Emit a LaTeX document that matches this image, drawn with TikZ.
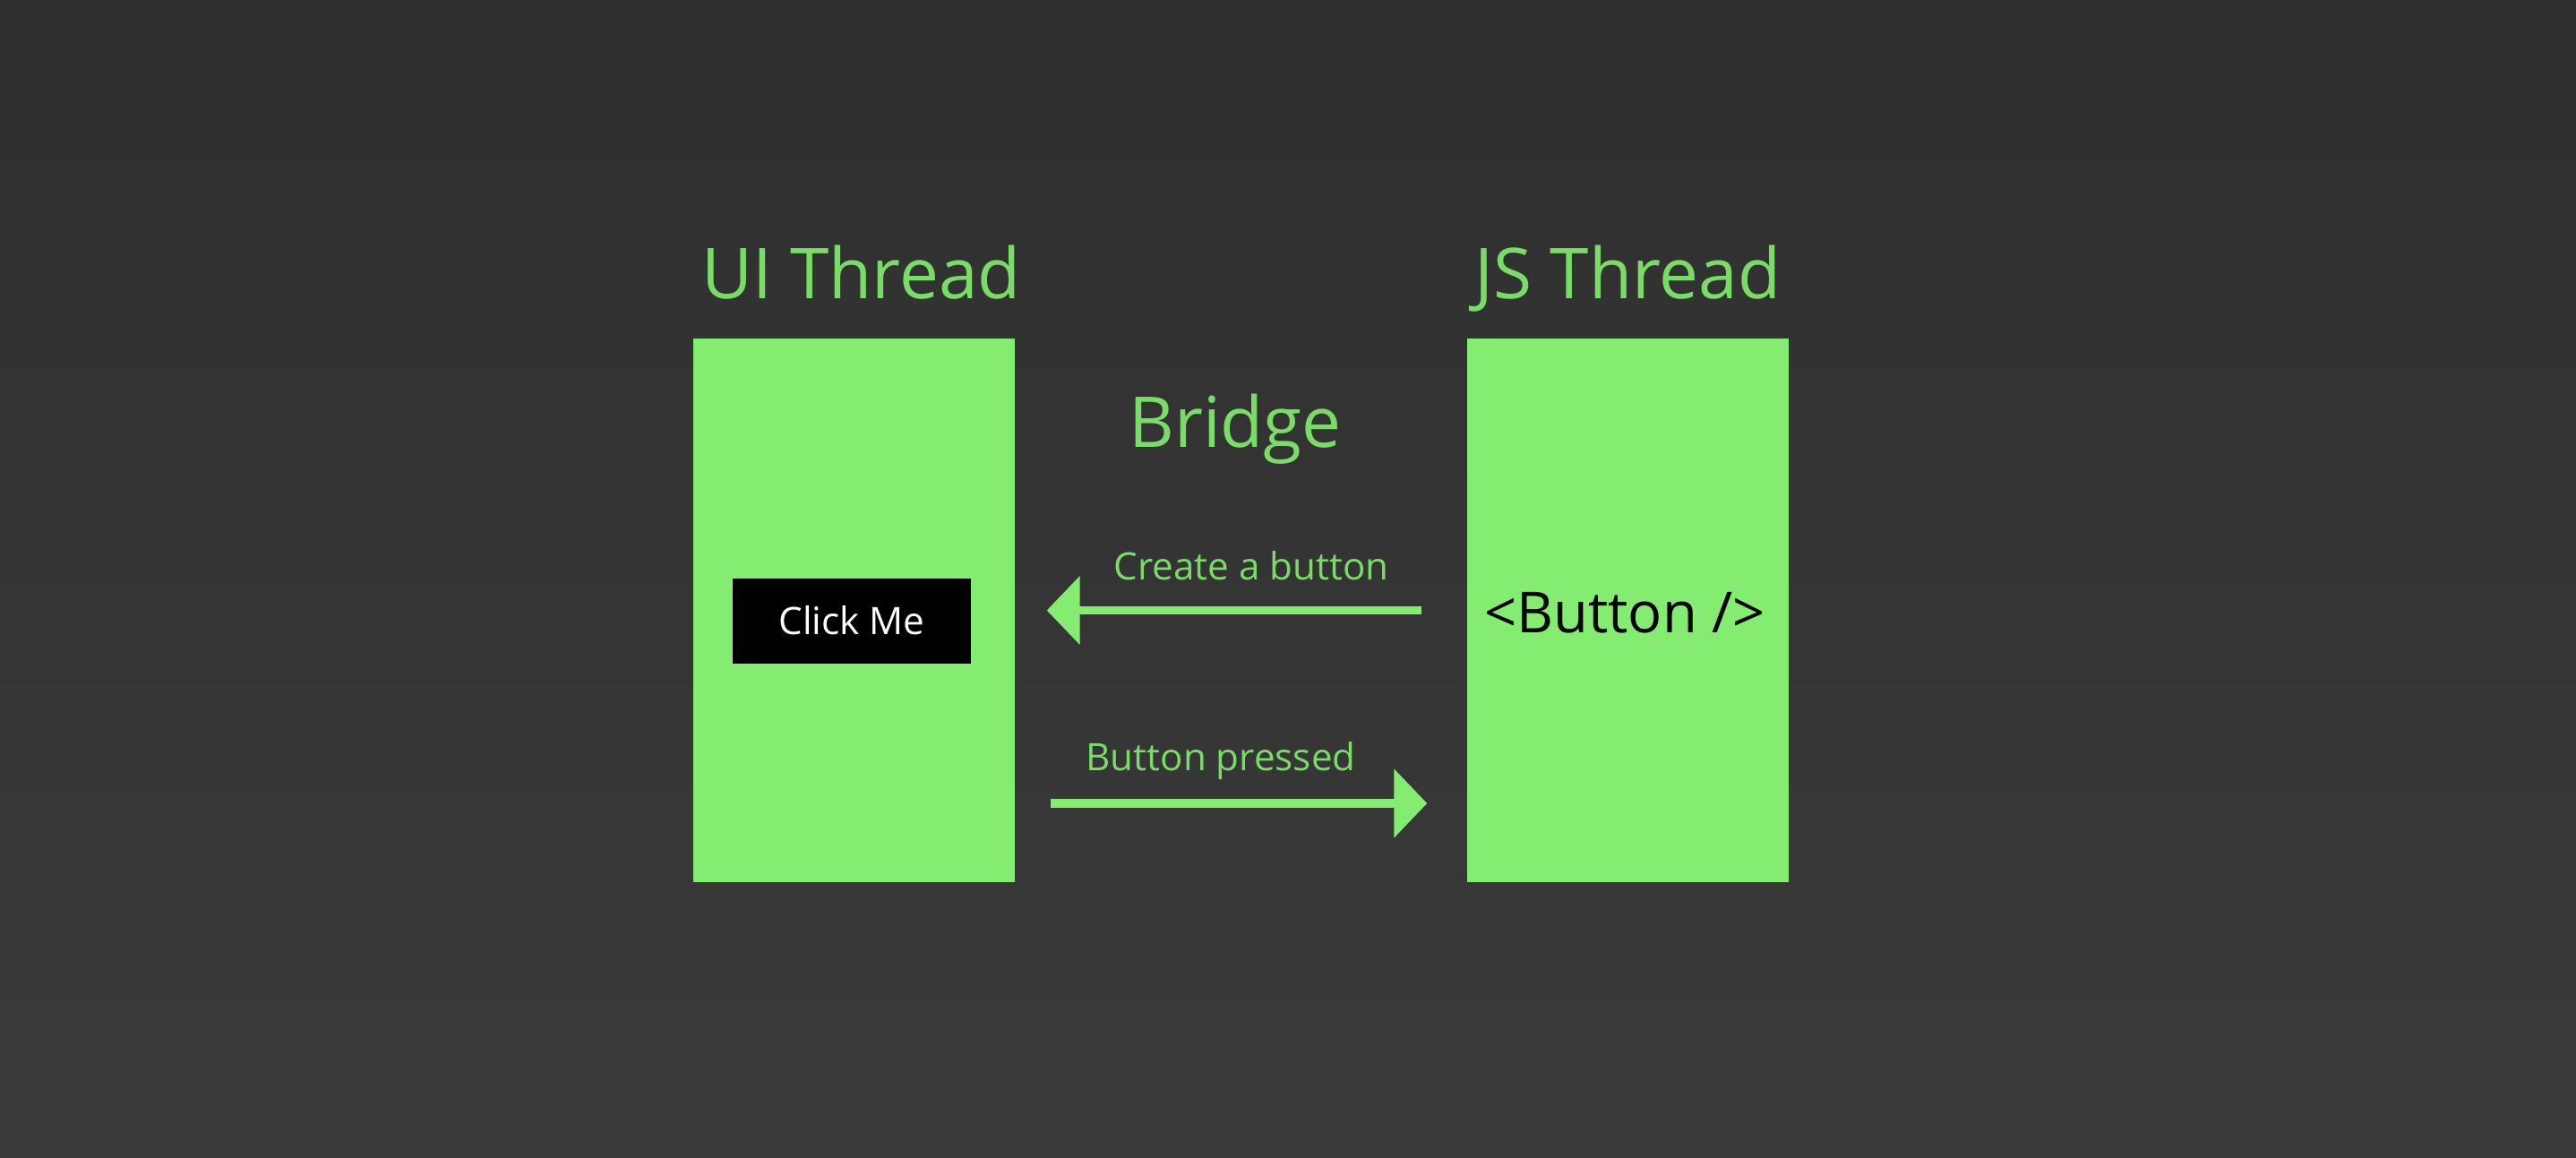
\documentclass[tikz,border=0pt]{standalone}
\usepackage{fontspec}
\setmainfont{Open Sans}
\usetikzlibrary{positioning, arrows.meta}

\definecolor{verde}{HTML}{85EC72}
\definecolor{verdetexto}{HTML}{78DC66}
\definecolor{pizarraA}{HTML}{2F2F2F}
\definecolor{pizarraB}{HTML}{3A3A3A}

\tikzset{
  hilo/.style={fill=verde, inner sep=0pt, minimum width=3.59cm, minimum height=6.07cm},
  titulo/.style={text=verdetexto, font=\fontsize{22.3}{27}\selectfont, anchor=base},
  etiqueta/.style={text=verdetexto, font=\fontsize{12}{14}\selectfont, anchor=base},
  flecha/.style={verde, line width=2.6pt, -{Triangle[length=0.37cm, width=0.75cm]}},
}

\begin{document}
\begin{tikzpicture}
  % fondo
  \useasboundingbox (0,0) rectangle (28.76,12.92);
  \shade [top color=pizarraA, bottom color=pizarraB] (0,0) rectangle (28.76,12.92);

  % hilos
  \node [hilo] (ui) at (9.535,6.105) {};
  \node [hilo] (js) at (18.175,6.105) {};
  \node [above=0.44cm of ui, titulo, xshift=0.08cm] (uititulo) {UI Thread};
  \node [above=0.44cm of js, titulo] (jstitulo) {JS Thread};
  \node [titulo] (puente) at (13.79,7.93) {Bridge};

  % componentes
  \node [fill=black, text=white, minimum width=2.66cm, minimum height=0.95cm,
         font=\fontsize{12}{14}\selectfont] (boton) at (9.51,5.99) {Click Me};
  \node [font=\fontsize{18}{22}\selectfont] (jsx) at (18.14,6.08) {<Button />};

  % mensajes
  \draw [flecha, shorten <=0.5cm, shorten >=0.35cm] (js.west) -- (ui.east);
  \draw [flecha, shorten <=0.39cm, shorten >=0.44cm]
    ([yshift=-2.155cm]ui.east) -- ([yshift=-2.155cm]js.west);
  \node [etiqueta] (crear) at (13.97,6.45) {Create a button};
  \node [etiqueta] (pulsado) at (13.63,4.32) {Button pressed};
\end{tikzpicture}
\end{document}
